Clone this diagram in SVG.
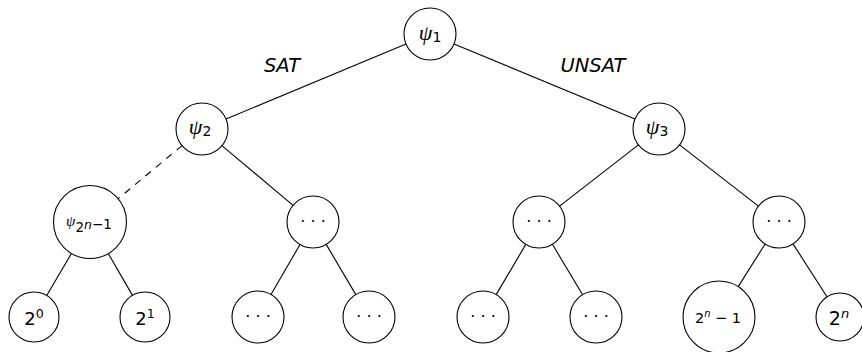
<svg xmlns="http://www.w3.org/2000/svg" width="862" height="352" viewBox="0 0 862 352">
<style>
.node circle{fill:#fff;stroke:#000;stroke-width:1.1}
.edge{stroke:#000;stroke-width:1.1;fill:none}
.dash{stroke-dasharray:7 6.5}
text{font-family:"DejaVu Sans",sans-serif;fill:#000}
.psi{font-family:"Liberation Serif","DejaVu Serif",serif;font-style:italic}
.lbl{font-style:italic;font-size:19.5px}
.it{font-style:italic}
</style>
<rect width="862" height="352" fill="#fff"/>
<g id="connectors">
<line class="edge" x1="406" y1="44" x2="226" y2="119"/>
<line class="edge" x1="454" y1="44" x2="635" y2="119"/>
<line class="edge dash" x1="182" y1="145.6" x2="118.1" y2="198.7"/>
<line class="edge" x1="221.9" y1="145.7" x2="293.1" y2="205.3"/>
<line class="edge" x1="638.4" y1="144.9" x2="559.6" y2="206.1"/>
<line class="edge" x1="679.6" y1="144.9" x2="758.4" y2="206.1"/>
<line class="edge" x1="71.5" y1="253.4" x2="46.7" y2="295.5"/>
<line class="edge" x1="108.3" y1="253.6" x2="132.5" y2="295.4"/>
<line class="edge" x1="300" y1="244.5" x2="271" y2="294.5"/>
<line class="edge" x1="326.2" y1="244.4" x2="355.8" y2="294.6"/>
<line class="edge" x1="525.8" y1="244.4" x2="496.2" y2="294.6"/>
<line class="edge" x1="552.4" y1="244.3" x2="582.6" y2="294.7"/>
<line class="edge" x1="765.1" y1="244" x2="738.2" y2="286.6"/>
<line class="edge" x1="793" y1="243.9" x2="827" y2="296.8"/>
</g>
<g id="labels">
<text class="lbl" x="282" y="72" text-anchor="middle">SAT</text>
<text class="lbl" x="593" y="72" text-anchor="middle">UNSAT</text>
</g>
<g id="psi1" class="node"><circle cx="430" cy="34" r="26"/>
<text x="430" y="40" text-anchor="middle"><tspan class="psi" font-size="22">ψ</tspan><tspan font-size="14" dy="2">1</tspan></text></g>
<g id="psi2" class="node"><circle cx="202" cy="129" r="26"/>
<text x="200" y="134" text-anchor="middle"><tspan class="psi" font-size="22">ψ</tspan><tspan font-size="14" dy="2">2</tspan></text></g>
<g id="psi3" class="node"><circle cx="659" cy="129" r="26"/>
<text x="657" y="134" text-anchor="middle"><tspan class="psi" font-size="22">ψ</tspan><tspan font-size="14" dy="2">3</tspan></text></g>
<g id="psi2n1" class="node"><circle cx="90" cy="222" r="36.5"/>
<text x="89" y="226" text-anchor="middle"><tspan class="psi" font-size="15">ψ</tspan><tspan font-size="13.5" dy="6">2</tspan><tspan class="it" font-size="12.5" dy="-3">n</tspan><tspan font-size="13.5">−1</tspan></text></g>
<g id="dots-a" class="node"><circle cx="313" cy="222" r="26"/>
<text x="313" y="227" text-anchor="middle" font-size="16">· · ·</text></g>
<g id="dots-b" class="node"><circle cx="539" cy="222" r="26"/>
<text x="539" y="227" text-anchor="middle" font-size="16">· · ·</text></g>
<g id="dots-c" class="node"><circle cx="779" cy="222" r="26"/>
<text x="779" y="227" text-anchor="middle" font-size="16">· · ·</text></g>
<g id="leaf-2-0" class="node"><circle cx="34" cy="317" r="25"/>
<text x="34" y="325" text-anchor="middle"><tspan font-size="18">2</tspan><tspan font-size="12.5" dy="-7">0</tspan></text></g>
<g id="leaf-2-1" class="node"><circle cx="145" cy="317" r="25"/>
<text x="145" y="325" text-anchor="middle"><tspan font-size="18">2</tspan><tspan font-size="12.5" dy="-7">1</tspan></text></g>
<g id="leaf-dots-1" class="node"><circle cx="258" cy="317" r="26"/>
<text x="258" y="322" text-anchor="middle" font-size="16">· · ·</text></g>
<g id="leaf-dots-2" class="node"><circle cx="369" cy="317" r="26"/>
<text x="369" y="322" text-anchor="middle" font-size="16">· · ·</text></g>
<g id="leaf-dots-3" class="node"><circle cx="483" cy="317" r="26"/>
<text x="483" y="322" text-anchor="middle" font-size="16">· · ·</text></g>
<g id="leaf-dots-4" class="node"><circle cx="596" cy="317" r="26"/>
<text x="596" y="322" text-anchor="middle" font-size="16">· · ·</text></g>
<g id="leaf-2n-1" class="node"><circle cx="719" cy="317" r="36"/>
<text x="718" y="323" text-anchor="middle"><tspan font-size="14.5">2</tspan><tspan class="it" font-size="10" dy="-6">n</tspan><tspan font-size="14.5" dy="6"> − 1</tspan></text></g>
<g id="leaf-2n" class="node"><circle cx="840" cy="317" r="24"/>
<text x="839" y="325" text-anchor="middle"><tspan font-size="19">2</tspan><tspan class="it" font-size="13" dy="-7">n</tspan></text></g>
</svg>
